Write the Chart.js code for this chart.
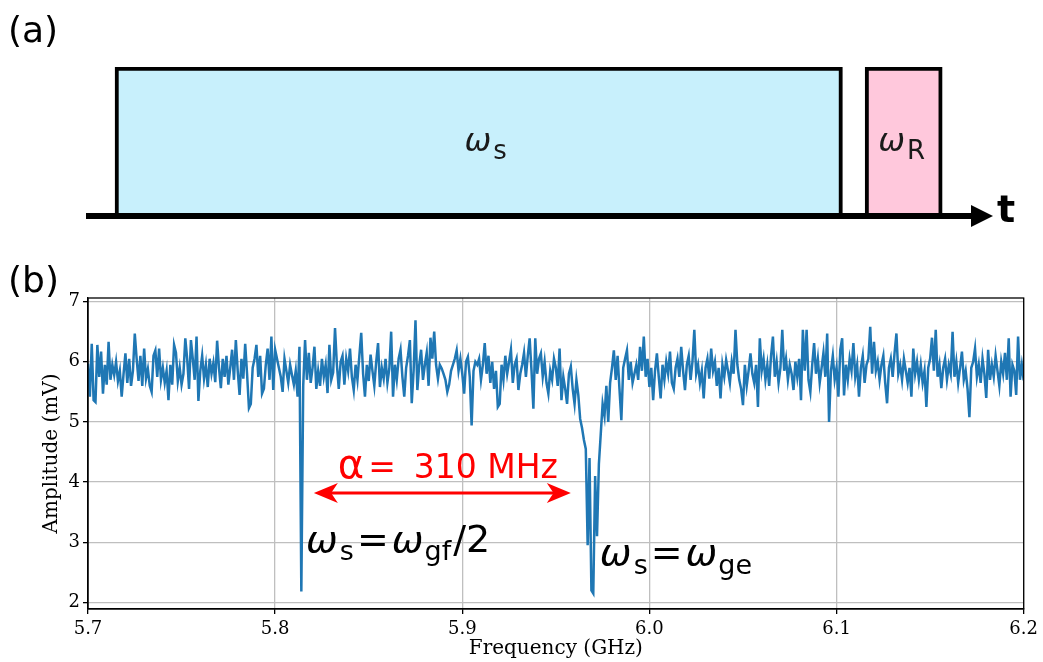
<!DOCTYPE html>
<html>
<head>
<meta charset="utf-8">
<title>Two-tone spectroscopy</title>
<script src="https://cdn.jsdelivr.net/npm/chart.js@4.4.1/dist/chart.umd.min.js"></script>
<style>
  html, body { margin: 0; padding: 0; background: #fff; }
  #wrap { position: relative; width: 1043px; height: 662px; }
  #pulses { position: absolute; left: 0; top: 0; }
  #spectrum { position: absolute; left: 0; top: 250px; }
</style>
</head>
<body>
<div id="wrap">
  <canvas id="pulses" width="1043" height="250"></canvas>
  <canvas id="spectrum" width="1043" height="412"></canvas>
</div>
<script>
// (a) pulse sequence, time in arbitrary units
var pulseNames = ["s", "R"];
var pulseStart = [0.32, 8.59];
var pulseEnd = [8.34, 9.44];

// (b) spectroscopy sweep, 1 MHz steps
var freqStart = 5.700; // GHz
var freqStep = 0.001;  // GHz
var amplitude = [
  5.97, 5.42, 6.30, 5.36, 5.33, 6.28, 5.75, 6.17, 5.47, 5.95, 5.62, 6.33, 5.70, 5.95, 5.78, 6.00, 5.68, 5.85, 5.42, 5.80,
  6.14, 5.65, 6.05, 5.60, 5.85, 6.47, 6.05, 5.68, 6.10, 5.60, 6.22, 5.72, 5.88, 5.60, 5.50, 6.10, 6.19, 5.75, 6.22, 5.70,
  5.90, 5.65, 5.85, 5.36, 5.95, 5.62, 6.28, 6.15, 5.68, 5.90, 5.62, 5.80, 6.39, 6.05, 5.55, 6.36, 6.05, 5.70, 6.42, 5.35,
  5.85, 6.10, 5.72, 5.95, 5.58, 6.05, 5.80, 5.98, 5.66, 6.35, 5.90, 5.56, 6.05, 5.75, 6.10, 5.62, 5.90, 6.20, 5.70, 6.36,
  5.85, 5.45, 6.05, 5.72, 6.30, 5.80, 5.23, 5.30, 5.90, 6.05, 6.28, 5.75, 6.10, 5.47, 5.55, 5.95, 6.22, 5.70, 6.42, 5.53,
  6.20, 6.05, 5.90, 5.75, 5.50, 6.05, 5.85, 5.65, 5.95, 5.78, 5.62, 5.85, 5.42, 6.25, 2.18, 5.60, 6.36, 5.70, 6.15, 5.65,
  5.90, 6.25, 5.55, 5.85, 5.60, 6.05, 5.75, 5.95, 5.48, 6.28, 5.70, 5.82, 6.56, 5.95, 5.55, 6.00, 6.10, 5.62, 6.05, 5.85,
  6.22, 5.75, 5.53, 5.95, 5.70, 6.10, 6.48, 5.80, 5.42, 5.95, 5.68, 6.12, 5.85, 5.60, 6.00, 6.31, 5.58, 5.90, 5.72, 6.05,
  5.65, 5.88, 6.50, 5.42, 5.95, 5.70, 6.05, 6.20, 5.75, 5.42, 5.90, 6.10, 6.36, 5.31, 5.85, 6.69, 5.53, 5.95, 6.20, 5.70,
  5.95, 6.15, 5.60, 6.40, 6.05, 6.50, 5.95, 5.72, 5.95, 5.89, 5.80, 5.70, 5.50, 5.62, 5.85, 5.95, 6.05, 6.19, 5.85, 6.05,
  5.80, 5.47, 6.00, 6.08, 5.75, 4.94, 5.85, 6.00, 5.95, 6.05, 5.70, 5.95, 6.31, 5.80, 6.10, 5.65, 6.00, 5.55, 5.85, 5.25,
  5.30, 5.95, 5.70, 6.10, 5.80, 6.00, 6.20, 5.65, 5.95, 6.05, 5.53, 5.80, 5.95, 6.15, 5.75, 6.10, 6.39, 5.85, 5.22, 6.39,
  5.80, 6.05, 6.14, 5.75, 6.00, 5.65, 5.47, 5.85, 5.70, 6.05, 5.90, 5.60, 6.22, 5.36, 5.75, 5.55, 5.30, 5.80, 5.92, 5.55,
  5.30, 5.70, 5.45, 5.05, 4.90, 4.70, 4.55, 2.95, 4.40, 2.20, 2.15, 4.10, 3.10, 4.30, 4.80, 5.30, 5.10, 5.60, 5.00, 5.65,
  5.90, 6.19, 5.70, 6.10, 5.55, 5.03, 5.90, 6.05, 6.19, 5.70, 6.00, 5.65, 5.80, 5.95, 5.70, 6.25, 5.85, 6.42, 5.75, 6.05,
  5.58, 5.90, 5.36, 5.85, 6.14, 5.75, 5.39, 5.95, 5.70, 6.00, 5.80, 6.17, 5.65, 5.55, 5.90, 6.05, 5.75, 6.25, 5.85, 5.53,
  5.95, 6.10, 5.70, 6.00, 6.53, 5.80, 5.95, 5.65, 5.85, 5.39, 5.90, 6.05, 5.72, 6.22, 5.85, 6.00, 5.60, 5.90, 5.39, 5.95,
  5.75, 6.03, 5.85, 5.65, 6.00, 5.80, 6.53, 5.95, 5.70, 5.55, 5.28, 5.95, 5.60, 5.85, 6.14, 5.80, 5.65, 5.95, 5.25, 6.39,
  5.85, 6.05, 5.70, 5.95, 5.60, 6.10, 6.42, 5.75, 6.00, 5.65, 5.90, 6.53, 5.85, 6.05, 5.70, 5.95, 5.80, 5.53, 6.00, 5.75,
  6.05, 5.36, 6.53, 5.85, 6.53, 5.70, 5.50, 5.95, 6.31, 5.80, 6.05, 5.65, 5.90, 6.15, 5.75, 6.47, 5.00, 5.85, 6.10, 5.70,
  5.90, 5.42, 6.20, 6.39, 5.44, 5.95, 5.70, 6.05, 5.85, 6.31, 5.75, 5.95, 5.42, 5.90, 6.10, 5.65, 5.95, 6.05, 6.58, 5.80,
  6.33, 5.85, 6.00, 5.70, 5.95, 6.10, 5.65, 5.31, 5.90, 6.05, 5.75, 6.15, 6.47, 5.80, 5.95, 5.70, 6.05, 5.85, 5.65, 5.90,
  5.42, 6.22, 5.80, 6.00, 5.70, 5.95, 5.65, 5.85, 5.25, 5.90, 6.05, 6.40, 5.85, 6.53, 5.75, 5.95, 5.56, 5.90, 6.05, 5.70,
  5.95, 5.80, 6.50, 5.75, 6.00, 5.65, 5.90, 6.17, 5.70, 5.85, 5.55, 5.08, 5.90, 6.00, 6.22, 5.75, 5.95, 5.65, 6.05, 5.80,
  5.40, 6.20, 5.70, 5.95, 5.75, 6.10, 5.85, 5.60, 6.00, 5.80, 6.15, 5.70, 6.39, 5.42, 5.95, 5.85, 5.45, 6.42, 5.70, 5.95,
  5.69
];
var xTicks = [5.7, 5.8, 5.9, 6.0, 6.1, 6.2];
var yTicks = [2, 3, 4, 5, 6, 7];
var alphaSpan = [5.8207, 5.958]; // GHz, ends of the anharmonicity arrow
var alphaLevel = 3.82;           // mV

var MATH = "'DejaVu Sans', sans-serif";

// draw a run of text pieces left to right (poor man's mathtext)
function drawPieces(ctx, x, y, pieces) {
  pieces.forEach(function (p) {
    ctx.font = p.font;
    ctx.fillText(p.text, x, y + (p.dy || 0));
    x += ctx.measureText(p.text).width + (p.gap || 0);
  });
  return x;
}

function notchedHead(ctx, tipX, y, dir, len, half) {
  ctx.beginPath();
  ctx.moveTo(tipX, y);
  ctx.lineTo(tipX - dir * len, y - half);
  ctx.lineTo(tipX - dir * len * 0.72, y);
  ctx.lineTo(tipX - dir * len, y + half);
  ctx.closePath();
  ctx.fill();
}

var pulseDecor = {
  id: "pulseDecor",
  afterDatasetsDraw: function (chart) {
    var ctx = chart.ctx, a = chart.chartArea;
    ctx.save();
    // time axis with arrow
    var y = a.bottom - 2;
    ctx.fillStyle = "#000";
    ctx.fillRect(a.left, y - 3, a.right - a.left - 18, 6);
    ctx.beginPath();
    ctx.moveTo(a.right, y);
    ctx.lineTo(a.right - 22, y - 11);
    ctx.lineTo(a.right - 22, y + 11);
    ctx.closePath();
    ctx.fill();
    ctx.font = "bold 38px " + MATH;
    ctx.textBaseline = "alphabetic";
    ctx.fillText("t", a.right + 4, y + 6);

    // pulse labels, nudged a little off the bar centres
    var shift = [7, -2];
    ctx.fillStyle = "#1a1a1a";
    chart.data.datasets.forEach(function (ds, i) {
      var bar = chart.getDatasetMeta(i).data[0];
      var cx = (bar.x + bar.base) / 2 + shift[i];
      var cy = bar.y + 8;
      var pieces = [
        { text: "\u03c9", font: "italic 32px " + MATH, gap: 2 },
        { text: ds.label, font: "26px " + MATH, dy: 8 }
      ];
      var w = 0;
      pieces.forEach(function (p) { ctx.font = p.font; w += ctx.measureText(p.text).width + (p.gap || 0); });
      drawPieces(ctx, cx - w / 2, cy, pieces);
    });

    ctx.fillStyle = "#000";
    ctx.font = "36px " + MATH;
    ctx.fillText("(a)", 8, 42);
    ctx.restore();
  }
};

new Chart(document.getElementById("pulses"), {
  type: "bar",
  data: {
    labels: ["sequence"],
    datasets: [
      { label: pulseNames[0], data: [[pulseStart[0], pulseEnd[0]]], backgroundColor: "#c8f0fc" },
      { label: pulseNames[1], data: [[pulseStart[1], pulseEnd[1]]], backgroundColor: "#ffc8dc" }
    ]
  },
  options: {
    indexAxis: "y",
    responsive: false,
    animation: false,
    datasets: {
      bar: {
        grouped: false,
        barPercentage: 1,
        categoryPercentage: 1,
        borderColor: "#000",
        borderWidth: 4,
        borderSkipped: false
      }
    },
    layout: { padding: { left: 86, right: 50, top: 67, bottom: 32 } },
    plugins: { legend: { display: false }, tooltip: { enabled: false } },
    scales: {
      x: { type: "linear", min: 0, max: 10, display: false },
      y: { display: false }
    }
  },
  plugins: [pulseDecor]
});

var spectrumNotes = {
  id: "spectrumNotes",
  afterDraw: function (chart) {
    var ctx = chart.ctx, a = chart.chartArea;
    var xs = chart.scales.x, ys = chart.scales.y;
    ctx.save();
    ctx.strokeStyle = "#000";
    ctx.lineWidth = 1.3;
    ctx.strokeRect(a.left, a.top, a.right - a.left, a.bottom - a.top);

    // anharmonicity arrow
    var x0 = xs.getPixelForValue(alphaSpan[0]);
    var x1 = xs.getPixelForValue(alphaSpan[1]);
    var y = ys.getPixelForValue(alphaLevel);
    ctx.strokeStyle = "#ff0000";
    ctx.fillStyle = "#ff0000";
    ctx.lineWidth = 3;
    ctx.beginPath();
    ctx.moveTo(x0 + 12, y);
    ctx.lineTo(x1 - 12, y);
    ctx.stroke();
    notchedHead(ctx, x0, y, -1, 24, 10);
    notchedHead(ctx, x1, y, 1, 24, 10);

    ctx.textBaseline = "alphabetic";
    drawPieces(ctx, xs.getPixelForValue(5.8335), ys.getPixelForValue(4.07), [
      { text: "\u03b1", font: "40px " + MATH, gap: 4 },
      { text: "=", font: "33px " + MATH, gap: 18 },
      { text: "310 MHz", font: "33px " + MATH }
    ]);

    ctx.fillStyle = "#000";
    drawPieces(ctx, xs.getPixelForValue(5.8165), ys.getPixelForValue(2.835), [
      { text: "\u03c9", font: "italic 38px " + MATH, gap: 2 },
      { text: "s", font: "27px " + MATH, dy: 8, gap: 3 },
      { text: "=", font: "38px " + MATH, gap: 3 },
      { text: "\u03c9", font: "italic 38px " + MATH, gap: 1 },
      { text: "gf", font: "27px " + MATH, dy: 8, gap: 2 },
      { text: "/2", font: "38px " + MATH }
    ]);
    drawPieces(ctx, xs.getPixelForValue(5.9735), ys.getPixelForValue(2.62), [
      { text: "\u03c9", font: "italic 38px " + MATH, gap: 2 },
      { text: "s", font: "27px " + MATH, dy: 9, gap: 3 },
      { text: "=", font: "38px " + MATH, gap: 3 },
      { text: "\u03c9", font: "italic 38px " + MATH, gap: 1 },
      { text: "ge", font: "27px " + MATH, dy: 9 }
    ]);

    ctx.font = "36px " + MATH;
    ctx.fillText("(b)", 8, 42);
    ctx.restore();
  }
};

var tickFont = { family: "'DejaVu Serif', serif", size: 18 };
var titleFont = { family: "'DejaVu Serif', serif", size: 20 };

new Chart(document.getElementById("spectrum"), {
  type: "line",
  data: {
    datasets: [{
      data: amplitude.map(function (v, i) { return { x: freqStart + i * freqStep, y: v }; }),
      borderColor: "#1f77b4",
      borderWidth: 2.5,
      pointRadius: 0,
      tension: 0,
      fill: false
    }]
  },
  options: {
    responsive: false,
    animation: false,
    layout: { padding: { left: 0, right: 18, top: 48, bottom: 0 } },
    plugins: { legend: { display: false }, tooltip: { enabled: false } },
    scales: {
      x: {
        type: "linear",
        min: 5.7,
        max: 6.2,
        afterFit: function (s) { s.height = 53; },
        afterBuildTicks: function (s) { s.ticks = xTicks.map(function (v) { return { value: v }; }); },
        ticks: {
          color: "#000",
          font: tickFont,
          padding: 5,
          maxRotation: 0,
          autoSkip: false,
          callback: function (v) { return v.toFixed(1); }
        },
        grid: { color: "#bfbfbf", lineWidth: 1.3, tickColor: "#000", tickLength: 5 },
        border: { color: "#000", width: 1.3 },
        title: { display: true, text: "Frequency (GHz)", color: "#000", font: titleFont, padding: { top: 0, bottom: 1 } }
      },
      y: {
        min: 1.89,
        max: 7.06,
        afterFit: function (s) { s.width = 88; },
        afterBuildTicks: function (s) { s.ticks = yTicks.map(function (v) { return { value: v }; }); },
        ticks: { color: "#000", font: tickFont, padding: 3 },
        grid: { color: "#bfbfbf", lineWidth: 1.3, tickColor: "#000", tickLength: 5 },
        border: { color: "#000", width: 1.3 },
        title: { display: true, text: "Amplitude (mV)", color: "#000", font: titleFont, padding: { top: 40, bottom: 0 } }
      }
    }
  },
  plugins: [spectrumNotes]
});
</script>
</body>
</html>
